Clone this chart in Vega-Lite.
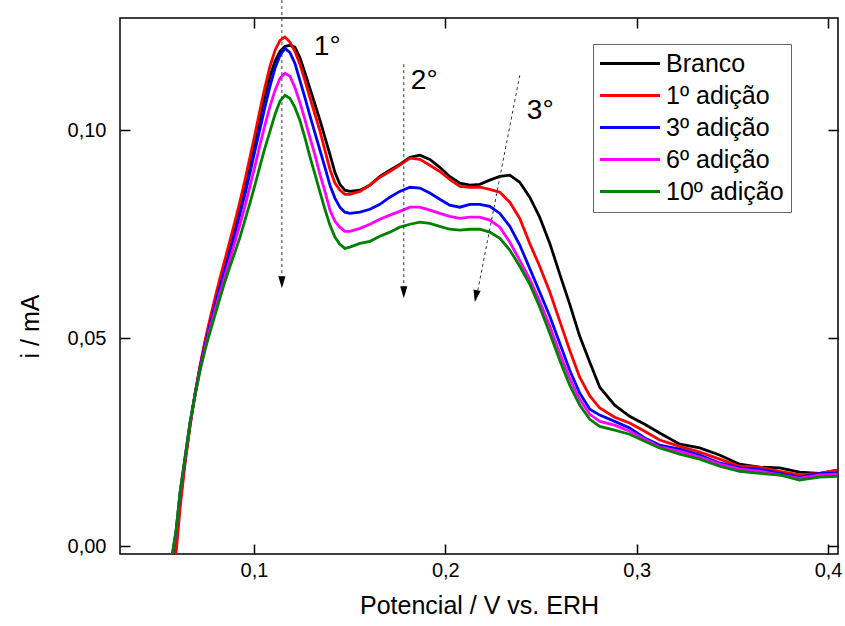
{
  "$schema": "https://vega.github.io/schema/vega-lite/v6.json",
  "width": 718,
  "height": 536,
  "autosize": {"type": "none"},
  "padding": {"left": 120, "top": 18, "right": 7, "bottom": 72},
  "background": "white",
  "config": {
    "font": "Liberation Sans",
    "view": {"stroke": "black", "strokeWidth": 1.5},
    "axis": {
      "domain": false, "grid": false, "ticks": true, "tickColor": "black", "tickWidth": 1.5, "tickSize": -10,
      "labelFont": "Liberation Sans", "labelFontSize": 20, "labelColor": "black",
      "titleFont": "Liberation Sans", "titleFontSize": 25, "titleFontWeight": "normal", "titleColor": "black"
    }
  },
  "datasets": {
    "arrows": [
      {"x": 0.1146, "y": 0.1313, "x2": 0.1146, "y2": 0.0625},
      {"x": 0.1783, "y": 0.1159, "x2": 0.1783, "y2": 0.0601},
      {"x": 0.2389, "y": 0.1132, "x2": 0.2160, "y2": 0.0592}
    ],
    "heads": [
      {"x": 0.1146, "y": 0.0620},
      {"x": 0.1783, "y": 0.0596}
    ],
    "heads2": [
      {"x": 0.2154, "y": 0.0587}
    ],
    "labels": [
      {"t": "1°", "x": 0.1313, "y": 0.1180},
      {"t": "2°", "x": 0.1820, "y": 0.1099},
      {"t": "3°", "x": 0.2426, "y": 0.1026}
    ],
    "curves": [
{"s":"Branco","x":0.0572,"y":-0.0031},{"s":"Branco","x":0.0593,"y":0.0022},{"s":"Branco","x":0.0614,"y":0.0106},{"s":"Branco","x":0.0640,"y":0.0204},{"s":"Branco","x":0.0666,"y":0.0291},{"s":"Branco","x":0.0692,"y":0.0365},{"s":"Branco","x":0.0718,"y":0.0430},{"s":"Branco","x":0.0744,"y":0.0488},{"s":"Branco","x":0.0770,"y":0.0538},{"s":"Branco","x":0.0796,"y":0.0587},{"s":"Branco","x":0.0822,"y":0.0632},{"s":"Branco","x":0.0849,"y":0.0678},{"s":"Branco","x":0.0875,"y":0.0721},{"s":"Branco","x":0.0901,"y":0.0767},{"s":"Branco","x":0.0927,"y":0.0815},{"s":"Branco","x":0.0953,"y":0.0865},{"s":"Branco","x":0.0979,"y":0.0918},{"s":"Branco","x":0.1005,"y":0.0974},{"s":"Branco","x":0.1031,"y":0.1029},{"s":"Branco","x":0.1057,"y":0.1082},{"s":"Branco","x":0.1084,"y":0.1130},{"s":"Branco","x":0.1110,"y":0.1166},{"s":"Branco","x":0.1136,"y":0.1190},{"s":"Branco","x":0.1162,"y":0.1202},
{"s":"Branco","x":0.1188,"y":0.1204},{"s":"Branco","x":0.1214,"y":0.1200},{"s":"Branco","x":0.1240,"y":0.1175},{"s":"Branco","x":0.1266,"y":0.1139},{"s":"Branco","x":0.1292,"y":0.1101},{"s":"Branco","x":0.1319,"y":0.1062},{"s":"Branco","x":0.1345,"y":0.1024},{"s":"Branco","x":0.1371,"y":0.0983},{"s":"Branco","x":0.1397,"y":0.0942},{"s":"Branco","x":0.1423,"y":0.0899},{"s":"Branco","x":0.1449,"y":0.0870},{"s":"Branco","x":0.1475,"y":0.0856},{"s":"Branco","x":0.1501,"y":0.0853},
{"s":"Branco","x":0.1554,"y":0.0856},{"s":"Branco","x":0.1606,"y":0.0868},{"s":"Branco","x":0.1658,"y":0.0889},{"s":"Branco","x":0.1710,"y":0.0904},{"s":"Branco","x":0.1762,"y":0.0918},{"s":"Branco","x":0.1815,"y":0.0935},{"s":"Branco","x":0.1867,"y":0.0940},{"s":"Branco","x":0.1919,"y":0.0930},{"s":"Branco","x":0.1971,"y":0.0911},{"s":"Branco","x":0.2023,"y":0.0889},{"s":"Branco","x":0.2076,"y":0.0873},{"s":"Branco","x":0.2128,"y":0.0868},{"s":"Branco","x":0.2180,"y":0.0870},{"s":"Branco","x":0.2232,"y":0.0880},{"s":"Branco","x":0.2285,"y":0.0889},{"s":"Branco","x":0.2337,"y":0.0892},{"s":"Branco","x":0.2389,"y":0.0875},{"s":"Branco","x":0.2441,"y":0.0839},{"s":"Branco","x":0.2493,"y":0.0791},{"s":"Branco","x":0.2546,"y":0.0728},{"s":"Branco","x":0.2598,"y":0.0654},{"s":"Branco","x":0.2650,"y":0.0582},{"s":"Branco","x":0.2702,"y":0.0505},{"s":"Branco","x":0.2755,"y":0.0442},{"s":"Branco","x":0.2807,"y":0.0382},
{"s":"Branco","x":0.2885,"y":0.0339},{"s":"Branco","x":0.2963,"y":0.0312},{"s":"Branco","x":0.3042,"y":0.0293},{"s":"Branco","x":0.3120,"y":0.0272},{"s":"Branco","x":0.3225,"y":0.0245},{"s":"Branco","x":0.3329,"y":0.0236},{"s":"Branco","x":0.3433,"y":0.0219},{"s":"Branco","x":0.3538,"y":0.0197},{"s":"Branco","x":0.3642,"y":0.0190},{"s":"Branco","x":0.3747,"y":0.0188},{"s":"Branco","x":0.3851,"y":0.0178},{"s":"Branco","x":0.3956,"y":0.0175},{"s":"Branco","x":0.4050,"y":0.0183},

{"s":"1º adição","x":0.0572,"y":-0.0038},{"s":"1º adição","x":0.0593,"y":-0.0017},{"s":"1º adição","x":0.0614,"y":0.0091},{"s":"1º adição","x":0.0640,"y":0.0200},{"s":"1º adição","x":0.0666,"y":0.0288},{"s":"1º adição","x":0.0692,"y":0.0365},{"s":"1º adição","x":0.0718,"y":0.0433},{"s":"1º adição","x":0.0744,"y":0.0493},{"s":"1º adição","x":0.0770,"y":0.0546},{"s":"1º adição","x":0.0796,"y":0.0596},{"s":"1º adição","x":0.0822,"y":0.0644},{"s":"1º adição","x":0.0849,"y":0.0690},{"s":"1º adição","x":0.0875,"y":0.0736},{"s":"1º adição","x":0.0901,"y":0.0781},{"s":"1º adição","x":0.0927,"y":0.0829},{"s":"1º adição","x":0.0953,"y":0.0880},{"s":"1º adição","x":0.0979,"y":0.0935},{"s":"1º adição","x":0.1005,"y":0.0990},{"s":"1º adição","x":0.1031,"y":0.1048},{"s":"1º adição","x":0.1057,"y":0.1103},{"s":"1º adição","x":0.1084,"y":0.1154},{"s":"1º adição","x":0.1110,"y":0.1192},{"s":"1º adição","x":0.1136,"y":0.1216},{"s":"1º adição","x":0.1162,"y":0.1224},
{"s":"1º adição","x":0.1188,"y":0.1212},{"s":"1º adição","x":0.1214,"y":0.1190},{"s":"1º adição","x":0.1240,"y":0.1159},{"s":"1º adição","x":0.1266,"y":0.1120},{"s":"1º adição","x":0.1292,"y":0.1079},{"s":"1º adição","x":0.1319,"y":0.1038},{"s":"1º adição","x":0.1345,"y":0.0998},{"s":"1º adição","x":0.1371,"y":0.0952},{"s":"1º adição","x":0.1397,"y":0.0906},{"s":"1º adição","x":0.1423,"y":0.0873},{"s":"1º adição","x":0.1449,"y":0.0856},{"s":"1º adição","x":0.1475,"y":0.0846},{"s":"1º adição","x":0.1501,"y":0.0846},
{"s":"1º adição","x":0.1554,"y":0.0853},{"s":"1º adição","x":0.1606,"y":0.0868},{"s":"1º adição","x":0.1658,"y":0.0887},{"s":"1º adição","x":0.1710,"y":0.0901},{"s":"1º adição","x":0.1762,"y":0.0916},{"s":"1º adição","x":0.1815,"y":0.0933},{"s":"1º adição","x":0.1867,"y":0.0930},{"s":"1º adição","x":0.1919,"y":0.0916},{"s":"1º adição","x":0.1971,"y":0.0901},{"s":"1º adição","x":0.2023,"y":0.0882},{"s":"1º adição","x":0.2076,"y":0.0865},{"s":"1º adição","x":0.2128,"y":0.0863},{"s":"1º adição","x":0.2180,"y":0.0863},{"s":"1º adição","x":0.2232,"y":0.0858},{"s":"1º adição","x":0.2285,"y":0.0851},{"s":"1º adição","x":0.2337,"y":0.0827},{"s":"1º adição","x":0.2389,"y":0.0788},{"s":"1º adição","x":0.2441,"y":0.0728},{"s":"1º adição","x":0.2493,"y":0.0673},{"s":"1º adição","x":0.2546,"y":0.0611},{"s":"1º adição","x":0.2598,"y":0.0541},{"s":"1º adição","x":0.2650,"y":0.0471},{"s":"1º adição","x":0.2702,"y":0.0406},{"s":"1º adição","x":0.2755,"y":0.0361},{"s":"1º adição","x":0.2807,"y":0.0332},
{"s":"1º adição","x":0.2885,"y":0.0310},{"s":"1º adição","x":0.2963,"y":0.0296},{"s":"1º adição","x":0.3042,"y":0.0276},{"s":"1º adição","x":0.3120,"y":0.0255},{"s":"1º adição","x":0.3225,"y":0.0240},{"s":"1º adição","x":0.3329,"y":0.0226},{"s":"1º adição","x":0.3433,"y":0.0209},{"s":"1º adição","x":0.3538,"y":0.0192},{"s":"1º adição","x":0.3642,"y":0.0190},{"s":"1º adição","x":0.3747,"y":0.0180},{"s":"1º adição","x":0.3851,"y":0.0171},{"s":"1º adição","x":0.3956,"y":0.0175},{"s":"1º adição","x":0.4050,"y":0.0183},

{"s":"3º adição","x":0.0572,"y":-0.0026},{"s":"3º adição","x":0.0593,"y":0.0034},{"s":"3º adição","x":0.0614,"y":0.0127},{"s":"3º adição","x":0.0640,"y":0.0212},{"s":"3º adição","x":0.0666,"y":0.0296},{"s":"3º adição","x":0.0692,"y":0.0365},{"s":"3º adição","x":0.0718,"y":0.0428},{"s":"3º adição","x":0.0744,"y":0.0483},{"s":"3º adição","x":0.0770,"y":0.0531},{"s":"3º adição","x":0.0796,"y":0.0577},{"s":"3º adição","x":0.0822,"y":0.0623},{"s":"3º adição","x":0.0849,"y":0.0666},{"s":"3º adição","x":0.0875,"y":0.0709},{"s":"3º adição","x":0.0901,"y":0.0752},{"s":"3º adição","x":0.0927,"y":0.0798},{"s":"3º adição","x":0.0953,"y":0.0846},{"s":"3º adição","x":0.0979,"y":0.0897},{"s":"3º adição","x":0.1005,"y":0.0950},{"s":"3º adição","x":0.1031,"y":0.1002},{"s":"3º adição","x":0.1057,"y":0.1055},{"s":"3º adição","x":0.1084,"y":0.1106},{"s":"3º adição","x":0.1110,"y":0.1149},{"s":"3º adição","x":0.1136,"y":0.1180},{"s":"3º adição","x":0.1162,"y":0.1197},
{"s":"3º adição","x":0.1188,"y":0.1187},{"s":"3º adição","x":0.1214,"y":0.1161},{"s":"3º adição","x":0.1240,"y":0.1120},{"s":"3º adição","x":0.1266,"y":0.1079},{"s":"3º adição","x":0.1292,"y":0.1036},{"s":"3º adição","x":0.1319,"y":0.0993},{"s":"3º adição","x":0.1345,"y":0.0952},{"s":"3º adição","x":0.1371,"y":0.0911},{"s":"3º adição","x":0.1397,"y":0.0868},{"s":"3º adição","x":0.1423,"y":0.0837},{"s":"3º adição","x":0.1449,"y":0.0815},{"s":"3º adição","x":0.1475,"y":0.0803},{"s":"3º adição","x":0.1501,"y":0.0800},
{"s":"3º adição","x":0.1554,"y":0.0803},{"s":"3º adição","x":0.1606,"y":0.0810},{"s":"3º adição","x":0.1658,"y":0.0822},{"s":"3º adição","x":0.1710,"y":0.0839},{"s":"3º adição","x":0.1762,"y":0.0853},{"s":"3º adição","x":0.1815,"y":0.0863},{"s":"3º adição","x":0.1867,"y":0.0861},{"s":"3º adição","x":0.1919,"y":0.0849},{"s":"3º adição","x":0.1971,"y":0.0834},{"s":"3º adição","x":0.2023,"y":0.0820},{"s":"3º adição","x":0.2076,"y":0.0815},{"s":"3º adição","x":0.2128,"y":0.0822},{"s":"3º adição","x":0.2180,"y":0.0822},{"s":"3º adição","x":0.2232,"y":0.0817},{"s":"3º adição","x":0.2285,"y":0.0800},{"s":"3º adição","x":0.2337,"y":0.0769},{"s":"3º adição","x":0.2389,"y":0.0724},{"s":"3º adição","x":0.2441,"y":0.0668},{"s":"3º adição","x":0.2493,"y":0.0611},{"s":"3º adição","x":0.2546,"y":0.0553},{"s":"3º adição","x":0.2598,"y":0.0488},{"s":"3º adição","x":0.2650,"y":0.0423},{"s":"3º adição","x":0.2702,"y":0.0368},{"s":"3º adição","x":0.2755,"y":0.0329},{"s":"3º adição","x":0.2807,"y":0.0315},
{"s":"3º adição","x":0.2885,"y":0.0300},{"s":"3º adição","x":0.2963,"y":0.0284},{"s":"3º adição","x":0.3042,"y":0.0260},{"s":"3º adição","x":0.3120,"y":0.0243},{"s":"3º adição","x":0.3225,"y":0.0233},{"s":"3º adição","x":0.3329,"y":0.0219},{"s":"3º adição","x":0.3433,"y":0.0200},{"s":"3º adição","x":0.3538,"y":0.0188},{"s":"3º adição","x":0.3642,"y":0.0185},{"s":"3º adição","x":0.3747,"y":0.0175},{"s":"3º adição","x":0.3851,"y":0.0166},{"s":"3º adição","x":0.3956,"y":0.0175},{"s":"3º adição","x":0.4050,"y":0.0175},

{"s":"6º adição","x":0.0572,"y":-0.0026},{"s":"6º adição","x":0.0593,"y":0.0036},{"s":"6º adição","x":0.0614,"y":0.0127},{"s":"6º adição","x":0.0640,"y":0.0212},{"s":"6º adição","x":0.0666,"y":0.0296},{"s":"6º adição","x":0.0692,"y":0.0363},{"s":"6º adição","x":0.0718,"y":0.0423},{"s":"6º adição","x":0.0744,"y":0.0476},{"s":"6º adição","x":0.0770,"y":0.0522},{"s":"6º adição","x":0.0796,"y":0.0565},{"s":"6º adição","x":0.0822,"y":0.0608},{"s":"6º adição","x":0.0849,"y":0.0649},{"s":"6º adição","x":0.0875,"y":0.0690},{"s":"6º adição","x":0.0901,"y":0.0731},{"s":"6º adição","x":0.0927,"y":0.0774},{"s":"6º adição","x":0.0953,"y":0.0817},{"s":"6º adição","x":0.0979,"y":0.0865},{"s":"6º adição","x":0.1005,"y":0.0913},{"s":"6º adição","x":0.1031,"y":0.0964},{"s":"6º adição","x":0.1057,"y":0.1012},{"s":"6º adição","x":0.1084,"y":0.1058},{"s":"6º adição","x":0.1110,"y":0.1096},{"s":"6º adição","x":0.1136,"y":0.1125},{"s":"6º adição","x":0.1162,"y":0.1137},
{"s":"6º adição","x":0.1188,"y":0.1130},{"s":"6º adição","x":0.1214,"y":0.1103},{"s":"6º adição","x":0.1240,"y":0.1067},{"s":"6º adição","x":0.1266,"y":0.1026},{"s":"6º adição","x":0.1292,"y":0.0983},{"s":"6º adição","x":0.1319,"y":0.0940},{"s":"6º adição","x":0.1345,"y":0.0894},{"s":"6º adição","x":0.1371,"y":0.0853},{"s":"6º adição","x":0.1397,"y":0.0808},{"s":"6º adição","x":0.1423,"y":0.0781},{"s":"6º adição","x":0.1449,"y":0.0767},{"s":"6º adição","x":0.1475,"y":0.0757},{"s":"6º adição","x":0.1501,"y":0.0757},
{"s":"6º adição","x":0.1554,"y":0.0764},{"s":"6º adição","x":0.1606,"y":0.0774},{"s":"6º adição","x":0.1658,"y":0.0786},{"s":"6º adição","x":0.1710,"y":0.0796},{"s":"6º adição","x":0.1762,"y":0.0805},{"s":"6º adição","x":0.1815,"y":0.0815},{"s":"6º adição","x":0.1867,"y":0.0815},{"s":"6º adição","x":0.1919,"y":0.0808},{"s":"6º adição","x":0.1971,"y":0.0800},{"s":"6º adição","x":0.2023,"y":0.0793},{"s":"6º adição","x":0.2076,"y":0.0788},{"s":"6º adição","x":0.2128,"y":0.0791},{"s":"6º adição","x":0.2180,"y":0.0791},{"s":"6º adição","x":0.2232,"y":0.0784},{"s":"6º adição","x":0.2285,"y":0.0767},{"s":"6º adição","x":0.2337,"y":0.0731},{"s":"6º adição","x":0.2389,"y":0.0687},{"s":"6º adição","x":0.2441,"y":0.0642},{"s":"6º adição","x":0.2493,"y":0.0589},{"s":"6º adição","x":0.2546,"y":0.0529},{"s":"6º adição","x":0.2598,"y":0.0464},{"s":"6º adição","x":0.2650,"y":0.0404},{"s":"6º adição","x":0.2702,"y":0.0353},{"s":"6º adição","x":0.2755,"y":0.0317},{"s":"6º adição","x":0.2807,"y":0.0300},
{"s":"6º adição","x":0.2885,"y":0.0291},{"s":"6º adição","x":0.2963,"y":0.0276},{"s":"6º adição","x":0.3042,"y":0.0257},{"s":"6º adição","x":0.3120,"y":0.0238},{"s":"6º adição","x":0.3225,"y":0.0228},{"s":"6º adição","x":0.3329,"y":0.0214},{"s":"6º adição","x":0.3433,"y":0.0197},{"s":"6º adição","x":0.3538,"y":0.0185},{"s":"6º adição","x":0.3642,"y":0.0180},{"s":"6º adição","x":0.3747,"y":0.0171},{"s":"6º adição","x":0.3851,"y":0.0163},{"s":"6º adição","x":0.3956,"y":0.0171},{"s":"6º adição","x":0.4050,"y":0.0173},

{"s":"10º adição","x":0.0572,"y":-0.0024},{"s":"10º adição","x":0.0593,"y":0.0038},{"s":"10º adição","x":0.0614,"y":0.0130},{"s":"10º adição","x":0.0640,"y":0.0214},{"s":"10º adição","x":0.0666,"y":0.0298},{"s":"10º adição","x":0.0692,"y":0.0363},{"s":"10º adição","x":0.0718,"y":0.0421},{"s":"10º adição","x":0.0744,"y":0.0471},{"s":"10º adição","x":0.0770,"y":0.0514},{"s":"10º adição","x":0.0796,"y":0.0555},{"s":"10º adição","x":0.0822,"y":0.0596},{"s":"10º adição","x":0.0849,"y":0.0637},{"s":"10º adição","x":0.0875,"y":0.0673},{"s":"10º adição","x":0.0901,"y":0.0707},{"s":"10º adição","x":0.0927,"y":0.0743},{"s":"10º adição","x":0.0953,"y":0.0784},{"s":"10º adição","x":0.0979,"y":0.0825},{"s":"10º adição","x":0.1005,"y":0.0868},{"s":"10º adição","x":0.1031,"y":0.0913},{"s":"10º adição","x":0.1057,"y":0.0957},{"s":"10º adição","x":0.1084,"y":0.0998},{"s":"10º adição","x":0.1110,"y":0.1038},{"s":"10º adição","x":0.1136,"y":0.1070},{"s":"10º adição","x":0.1162,"y":0.1084},
{"s":"10º adição","x":0.1188,"y":0.1077},{"s":"10º adição","x":0.1214,"y":0.1055},{"s":"10º adição","x":0.1240,"y":0.1024},{"s":"10º adição","x":0.1266,"y":0.0983},{"s":"10º adição","x":0.1292,"y":0.0937},{"s":"10º adição","x":0.1319,"y":0.0894},{"s":"10º adição","x":0.1345,"y":0.0851},{"s":"10º adição","x":0.1371,"y":0.0810},{"s":"10º adição","x":0.1397,"y":0.0772},{"s":"10º adição","x":0.1423,"y":0.0743},{"s":"10º adição","x":0.1449,"y":0.0726},{"s":"10º adição","x":0.1475,"y":0.0716},{"s":"10º adição","x":0.1501,"y":0.0719},
{"s":"10º adição","x":0.1554,"y":0.0728},{"s":"10º adição","x":0.1606,"y":0.0733},{"s":"10º adição","x":0.1658,"y":0.0745},{"s":"10º adição","x":0.1710,"y":0.0755},{"s":"10º adição","x":0.1762,"y":0.0767},{"s":"10º adição","x":0.1815,"y":0.0774},{"s":"10º adição","x":0.1867,"y":0.0779},{"s":"10º adição","x":0.1919,"y":0.0776},{"s":"10º adição","x":0.1971,"y":0.0769},{"s":"10º adição","x":0.2023,"y":0.0762},{"s":"10º adição","x":0.2076,"y":0.0760},{"s":"10º adição","x":0.2128,"y":0.0762},{"s":"10º adição","x":0.2180,"y":0.0762},{"s":"10º adição","x":0.2232,"y":0.0755},{"s":"10º adição","x":0.2285,"y":0.0740},{"s":"10º adição","x":0.2337,"y":0.0712},{"s":"10º adição","x":0.2389,"y":0.0673},{"s":"10º adição","x":0.2441,"y":0.0630},{"s":"10º adição","x":0.2493,"y":0.0575},{"s":"10º adição","x":0.2546,"y":0.0512},{"s":"10º adição","x":0.2598,"y":0.0447},{"s":"10º adição","x":0.2650,"y":0.0387},{"s":"10º adição","x":0.2702,"y":0.0339},{"s":"10º adição","x":0.2755,"y":0.0305},{"s":"10º adição","x":0.2807,"y":0.0288},
{"s":"10º adição","x":0.2885,"y":0.0279},{"s":"10º adição","x":0.2963,"y":0.0269},{"s":"10º adição","x":0.3042,"y":0.0252},{"s":"10º adição","x":0.3120,"y":0.0236},{"s":"10º adição","x":0.3225,"y":0.0221},{"s":"10º adição","x":0.3329,"y":0.0209},{"s":"10º adição","x":0.3433,"y":0.0192},{"s":"10º adição","x":0.3538,"y":0.0180},{"s":"10º adição","x":0.3642,"y":0.0175},{"s":"10º adição","x":0.3747,"y":0.0171},{"s":"10º adição","x":0.3851,"y":0.0159},{"s":"10º adição","x":0.3956,"y":0.0166},{"s":"10º adição","x":0.4050,"y":0.0168}
    ]
  },
  "resolve": {"axis": {"x": "independent", "y": "independent"}},
  "layer": [
    {
      "data": {"name": "curves"},
      "mark": {"type": "line", "strokeWidth": 2.8, "clip": true},
      "encoding": {
        "x": {"field": "x", "type": "quantitative",
              "scale": {"domain": [0.03, 0.4052], "nice": false, "zero": false},
              "axis": {"orient": "bottom", "values": [0.1, 0.2, 0.3, 0.4], "labelPadding": 16,
                       "labelExpr": "replace(format(datum.value, '.1f'), '.', ',')",
                       "title": "Potencial / V vs. ERH", "titleX": 359, "titleY": 51, "titleBaseline": "middle", "titleAlign": "center"}},
        "y": {"field": "y", "type": "quantitative",
              "scale": {"domain": [-0.0019, 0.127], "nice": false, "zero": false},
              "axis": {"orient": "left", "values": [0, 0.05, 0.1], "labelPadding": 24,
                       "labelExpr": "replace(format(datum.value, '.2f'), '.', ',')",
                       "title": "i / mA", "titleX": -90, "titleY": 308, "titleAngle": -90, "titleBaseline": "middle", "titleAlign": "center"}},
        "color": {"field": "s", "type": "nominal",
                  "scale": {"domain": ["Branco", "1º adição", "3º adição", "6º adição", "10º adição"],
                            "range": ["#000000", "#ff0000", "#0000ff", "#ff00ff", "#008000"]},
                  "legend": {"orient": "none", "legendX": 473, "legendY": 26, "title": null,
                             "strokeColor": "#666666", "fillColor": "white", "padding": 7,
                             "labelFontSize": 25, "labelFont": "Liberation Sans", "labelColor": "black", "labelLimit": 300,
                             "symbolType": "M-3,0H3", "symbolSize": 400, "symbolStrokeWidth": 3,
                             "symbolOffset": 17.5, "labelOffset": 23.5, "rowPadding": 6}}
      }
    },
    {
      "data": {"name": "arrows"},
      "mark": {"type": "rule", "strokeDash": [3, 3], "strokeWidth": 1, "color": "#333333", "clip": false},
      "encoding": {
        "x": {"field": "x", "type": "quantitative", "scale": {"domain": [0.03, 0.4052], "nice": false, "zero": false},
              "axis": {"orient": "top", "values": [0.1, 0.2, 0.3, 0.4], "labels": false, "title": null}},
        "y": {"field": "y", "type": "quantitative", "scale": {"domain": [-0.0019, 0.127], "nice": false, "zero": false},
              "axis": {"orient": "right", "values": [0, 0.05, 0.1], "labels": false, "title": null}},
        "x2": {"field": "x2"},
        "y2": {"field": "y2"}
      }
    },
    {
      "data": {"name": "heads"},
      "mark": {"type": "point", "shape": "M-0.6,-2L0.6,-2L0,0Z", "size": 144, "filled": true, "color": "black", "opacity": 1, "clip": false},
      "encoding": {
        "x": {"field": "x", "type": "quantitative", "axis": null},
        "y": {"field": "y", "type": "quantitative", "axis": null}
      }
    },
    {
      "data": {"name": "heads2"},
      "mark": {"type": "point", "shape": "M-0.6,-2L0.6,-2L0,0Z", "size": 144, "filled": true, "color": "black", "opacity": 1, "angle": 11, "clip": false},
      "encoding": {
        "x": {"field": "x", "type": "quantitative", "axis": null},
        "y": {"field": "y", "type": "quantitative", "axis": null}
      }
    },
    {
      "data": {"name": "labels"},
      "mark": {"type": "text", "align": "left", "baseline": "alphabetic", "fontSize": 28, "font": "Liberation Sans", "color": "black", "clip": false},
      "encoding": {
        "x": {"field": "x", "type": "quantitative", "axis": null},
        "y": {"field": "y", "type": "quantitative", "axis": null},
        "text": {"field": "t"}
      }
    }
  ]
}
